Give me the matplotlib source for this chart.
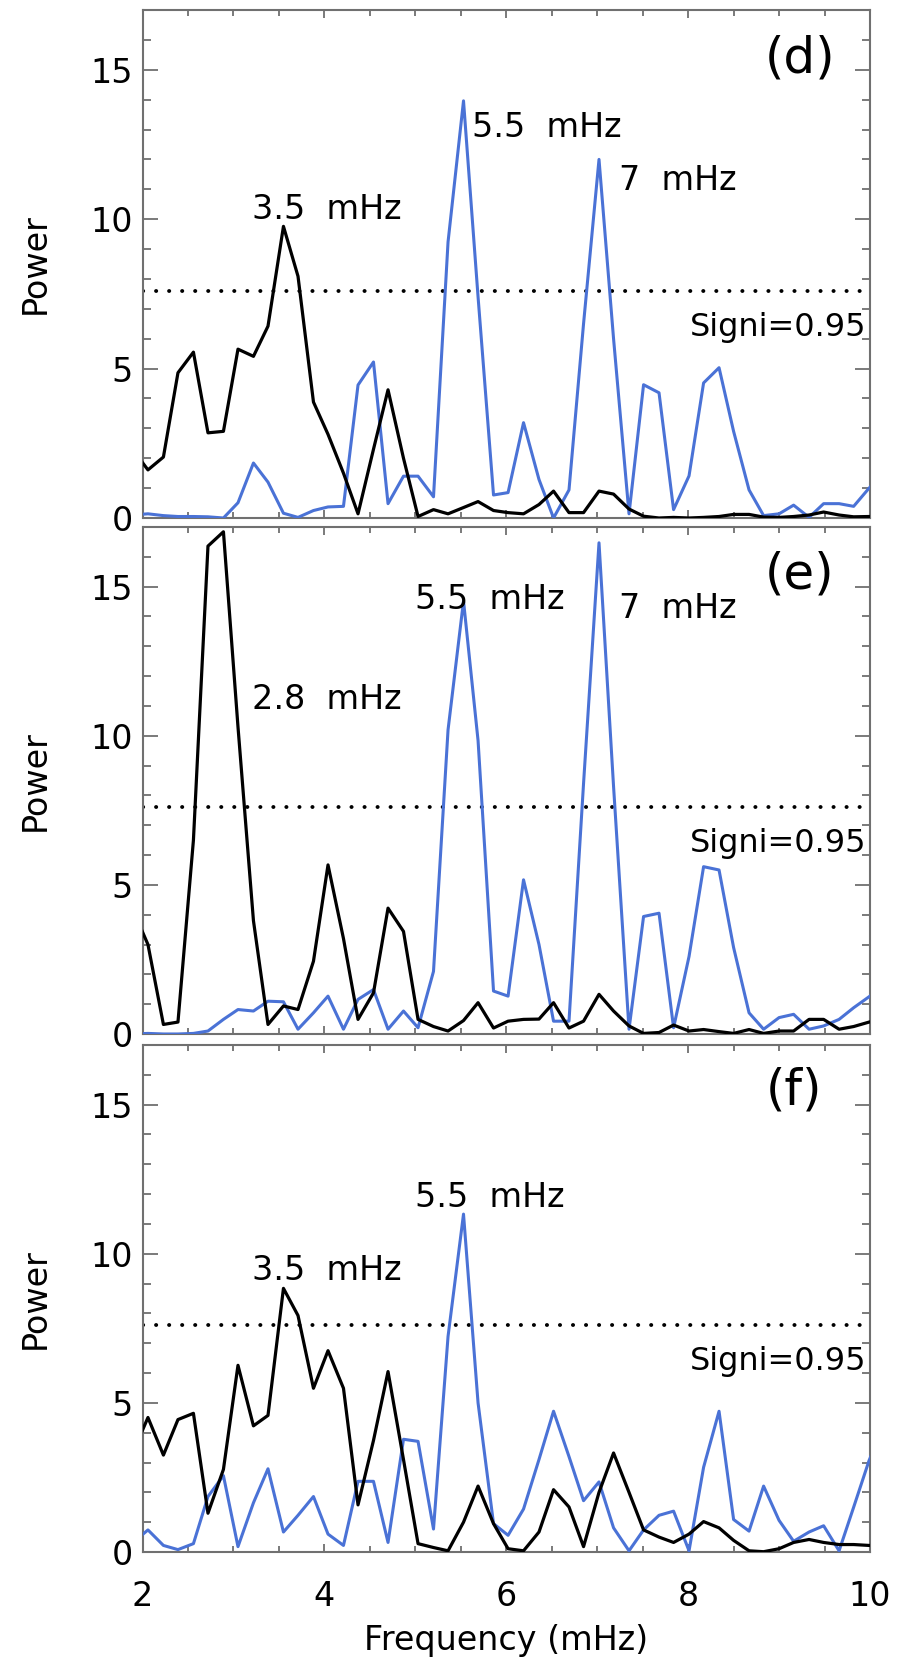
from __future__ import annotations

import matplotlib

matplotlib.use("Agg")

import matplotlib.pyplot as plt
from matplotlib.ticker import MultipleLocator

# frequency grid (mHz)
freq = [1.89, 2.06, 2.23, 2.39, 2.56, 2.72, 2.89, 3.05, 3.22, 3.38, 3.55, 3.71, 3.88,
        4.04, 4.21, 4.37, 4.54, 4.70, 4.87, 5.03, 5.20, 5.36, 5.53, 5.69, 5.86, 6.02,
        6.19, 6.36, 6.52, 6.69, 6.85, 7.02, 7.18, 7.35, 7.51, 7.68, 7.84, 8.01, 8.17,
        8.34, 8.50, 8.67, 8.83, 9.00, 9.16, 9.33, 9.49, 9.66, 9.82, 9.99, 10.15]

d_black = [2.3, 1.61, 2.04, 4.86, 5.55, 2.85, 2.90, 5.65, 5.41, 6.42, 9.76, 8.09, 3.88,
           2.8, 1.5, 0.14, 2.3, 4.29, 2.0, 0.05, 0.28, 0.14, 0.35, 0.55, 0.25, 0.18,
           0.14, 0.45, 0.9, 0.18, 0.18, 0.9, 0.8, 0.3, 0.06, 0.0, 0.02, 0.0, 0.02,
           0.05, 0.12, 0.12, 0.03, 0.02, 0.05, 0.1, 0.2, 0.1, 0.04, 0.05, 0.05]
d_blue = [0.1, 0.14, 0.08, 0.05, 0.05, 0.04, 0.0, 0.51, 1.84, 1.20, 0.16, 0.02, 0.25,
          0.37, 0.39, 4.45, 5.22, 0.48, 1.40, 1.40, 0.71, 9.24, 13.96, 7.4, 0.77, 0.85,
          3.19, 1.29, 0.0, 0.94, 6.5, 12.0, 6.0, 0.14, 4.46, 4.19, 0.28, 1.41, 4.52,
          5.03, 2.9, 0.94, 0.08, 0.14, 0.43, 0.02, 0.48, 0.48, 0.39, 1.0, 1.5]

e_black = [4.2, 3.0, 0.32, 0.40, 6.5, 16.36, 16.84, 10.3, 3.8, 0.32, 0.94, 0.82, 2.44,
           5.67, 3.2, 0.49, 1.38, 4.22, 3.44, 0.49, 0.25, 0.1, 0.45, 1.05, 0.2, 0.43,
           0.49, 0.5, 1.05, 0.2, 0.43, 1.33, 0.77, 0.27, 0.02, 0.05, 0.3, 0.1, 0.15,
           0.08, 0.02, 0.15, 0.02, 0.1, 0.1, 0.49, 0.49, 0.16, 0.25, 0.4, 0.5]
e_blue = [0.0, 0.02, 0.0, 0.0, 0.02, 0.1, 0.49, 0.82, 0.77, 1.10, 1.08, 0.16, 0.71,
          1.27, 0.16, 1.16, 1.49, 0.16, 0.77, 0.21, 2.1, 10.2, 14.52, 9.84, 1.44, 1.27,
          5.17, 3.0, 0.43, 0.43, 8.4, 16.47, 8.3, 0.16, 3.94, 4.05, 0.21, 2.6, 5.61,
          5.50, 2.9, 0.71, 0.16, 0.55, 0.66, 0.16, 0.27, 0.49, 0.88, 1.25, 1.6]

f_black = [3.3, 4.51, 3.25, 4.44, 4.65, 1.30, 2.77, 6.26, 4.23, 4.58, 8.84, 7.93, 5.49,
           6.75, 5.49, 1.58, 3.74, 6.05, 3.1, 0.28, 0.15, 0.04, 1.0, 2.21, 0.95, 0.11,
           0.04, 0.67, 2.09, 1.51, 0.18, 2.0, 3.32, 2.0, 0.74, 0.50, 0.32, 0.60, 1.02,
           0.81, 0.39, 0.04, 0.01, 0.11, 0.32, 0.42, 0.32, 0.25, 0.25, 0.22, 0.22]
f_blue = [0.3, 0.74, 0.22, 0.08, 0.28, 1.86, 2.56, 0.18, 1.65, 2.79, 0.67, 1.23, 1.86,
          0.60, 0.22, 2.37, 2.37, 0.32, 3.78, 3.71, 0.77, 7.23, 11.33, 5.0, 0.95, 0.56,
          1.44, 3.1, 4.72, 3.2, 1.72, 2.35, 0.81, 0.04, 0.74, 1.23, 1.37, 0.04, 2.84,
          4.72, 1.09, 0.70, 2.21, 1.06, 0.36, 0.67, 0.88, 0.04, 1.5, 3.07, 4.2]

signif_level = 7.6
signif_text = "Signi=0.95"
panel_tags = ["(d)", "(e)", "(f)"]
y_ticks = [0, 5, 10, 15]
x_ticks = [2, 4, 6, 8, 10]

# peak labels per panel: (text, x, y baseline)
peak_labels = [
    [("3.5  mHz", 3.2, 10.0), ("5.5  mHz", 5.62, 12.75), ("7  mHz", 7.24, 10.97)],
    [("2.8  mHz", 3.2, 10.9), ("5.5  mHz", 5.0, 14.24), ("7  mHz", 7.24, 13.96)],
    [("3.5  mHz", 3.2, 9.12), ("5.5  mHz", 5.0, 11.56)],
]
tag_pos = [(9.23, 15.37), (9.23, 15.41), (9.16, 15.47)]

BLUE = "#4a72d6"
AXIS_GREY = "#707070"

W, H = 922, 1664
# axes boxes in pixels: (top, bottom)
boxes = [(10, 518), (527, 1034), (1045, 1552)]
left_px, right_px = 142.5, 870

plt.rcParams["font.family"] = ["DejaVu Sans"]

fig = plt.figure(figsize=(W / 100, H / 100), dpi=100)
series = [(d_black, d_blue), (e_black, e_blue), (f_black, f_blue)]

for i, ((top, bot), (black, blue)) in enumerate(zip(boxes, series)):
    ax = fig.add_axes([left_px / W, 1 - bot / H, (right_px - left_px) / W, (bot - top) / H])
    ax.plot(freq, blue, color=BLUE, lw=2.2, zorder=3)
    ax.plot(freq, black, color="black", lw=2.3, zorder=4)
    # round dots about 13 px apart
    ax.axhline(signif_level, color="black", lw=2.8, linestyle=(0, (0.05, 3.3)),
               dash_capstyle="round", zorder=2)

    ax.set_xlim(2, 10)
    ax.set_ylim(0, 17)
    ax.yaxis.set_major_locator(MultipleLocator(5))
    ax.yaxis.set_minor_locator(MultipleLocator(1))
    ax.xaxis.set_major_locator(MultipleLocator(2))
    ax.xaxis.set_minor_locator(MultipleLocator(0.5))
    ax.set_yticks(y_ticks)
    ax.set_yticklabels([str(t) for t in y_ticks])

    for side in ax.spines.values():
        side.set_color(AXIS_GREY)
        side.set_linewidth(1.5)
    ax.tick_params(axis="both", which="both", direction="in", top=True, right=True,
                   color=AXIS_GREY, labelcolor="black", width=1.3)
    ax.tick_params(axis="y", which="major", length=11, pad=7, labelsize=24)
    ax.tick_params(axis="y", which="minor", length=6)
    ax.tick_params(axis="x", which="major", length=6, pad=20, labelsize=24)
    ax.tick_params(axis="x", which="minor", length=4)

    ax.set_ylabel("Power", fontsize=24)
    ax.yaxis.set_label_coords((52 - left_px) / (right_px - left_px), 0.5)

    if i < 2:
        ax.tick_params(axis="x", labelbottom=False)
    else:
        ax.set_xticks(x_ticks)
        ax.set_xticklabels([str(t) for t in x_ticks])
        ax.set_xlabel("Frequency (mHz)", fontsize=24, labelpad=8)

    for text, x, y in peak_labels[i]:
        ax.text(x, y, text, fontsize=24, ha="left", va="baseline", zorder=5)
    tx, ty = tag_pos[i]
    ax.text(tx, ty, panel_tags[i], fontsize=36, ha="center", va="center")
    ax.text(9.96, signif_level - 1.5, signif_text, fontsize=23, ha="right", va="baseline")

fig.savefig("out.png", dpi=100)
plt.close(fig)
